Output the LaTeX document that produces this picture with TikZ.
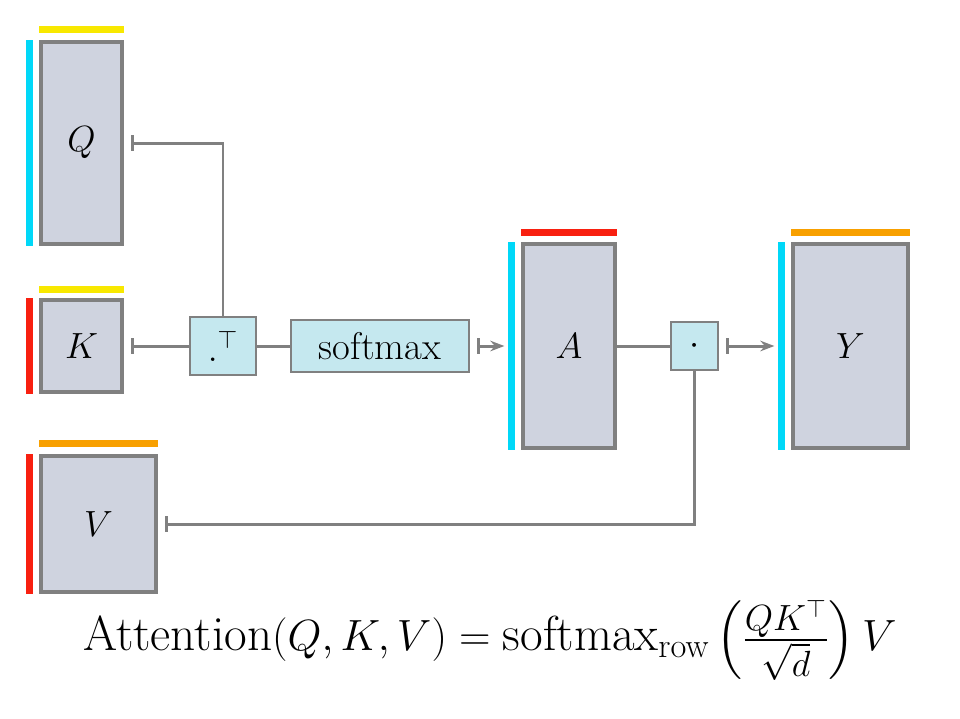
\documentclass[tikz,border=0pt]{standalone}
\usepackage{amsmath}
\usepackage{tikz}
\usetikzlibrary{arrows.meta,positioning,calc}
\definecolor{matfill}{HTML}{CFD3DF}
\definecolor{opfill}{HTML}{C5E8EF}
\definecolor{edgegray}{HTML}{808080}
\definecolor{barcyan}{HTML}{00D8F8}
\definecolor{barred}{HTML}{F82010}
\definecolor{baryellow}{HTML}{F8E800}
\definecolor{barorange}{HTML}{F8A000}
\begin{document}
\begin{tikzpicture}[x=0.02cm,y=-0.02cm,
            mat/.style={draw=edgegray, line width=1.8pt, fill=matfill, rectangle, inner sep=0pt,
                 font=\fontsize{22}{26}\selectfont},
            op/.style={draw=edgegray, line width=1.4pt, fill=opfill, rectangle, inner sep=0pt,
                 font=\fontsize{22}{26}\selectfont},
            wire/.style={draw=edgegray, line width=1.7pt, {Bar[width=9pt]}-, shorten <=4pt},
            flow/.style={wire, {Bar[width=9pt]}-{Stealth[length=8pt]}, shorten >=4pt},
            bar/.style={line width=4pt}
            ]
            \useasboundingbox (0,0) rectangle (960,718);

            % Matrices
            \node[mat, minimum width=81*0.02cm, minimum height=202*0.02cm] (q) at (81.5,143) {$Q$};
            \node[mat, minimum width=81*0.02cm, minimum height=92*0.02cm] (k) at (81.5,346) {$K$};
            \node[mat, minimum width=115*0.02cm, minimum height=136*0.02cm] (v) at (98.5,524) {$V$};
            \node[mat, minimum width=92*0.02cm, minimum height=204*0.02cm] (a) at (569,346) {$A$};
            \node[mat, minimum width=115*0.02cm, minimum height=204*0.02cm] (y) at (850.5,346) {$Y$};

            % Operations
            \node[op, minimum width=66*0.02cm, minimum height=58*0.02cm] (tr) at (223,346) {$.^{\top}$};
            \node[op, minimum width=178*0.02cm, minimum height=52*0.02cm] (sm) at (380,346) {softmax};
            \node[op, minimum width=47*0.02cm, minimum height=48*0.02cm] (mul) at (694.5,346) {$\cdot$};

            % Shape bars
            \draw[bar, barcyan] ([xshift=-10*0.02cm]q.north west) -- ([xshift=-10*0.02cm]q.south west);
            \draw[bar, baryellow] ([yshift=11*0.02cm]q.north west) -- ([yshift=11*0.02cm]q.north east);
            \draw[bar, barred] ([xshift=-10*0.02cm]k.north west) -- ([xshift=-10*0.02cm]k.south west);
            \draw[bar, baryellow] ([yshift=9*0.02cm]k.north west) -- ([yshift=9*0.02cm]k.north east);
            \draw[bar, barred] ([xshift=-10*0.02cm]v.north west) -- ([xshift=-10*0.02cm]v.south west);
            \draw[bar, barorange] ([yshift=11*0.02cm]v.north west) -- ([yshift=11*0.02cm]v.north east);
            \draw[bar, barcyan] ([xshift=-10*0.02cm]a.north west) -- ([xshift=-10*0.02cm]a.south west);
            \draw[bar, barred] ([yshift=10*0.02cm]a.north west) -- ([yshift=10*0.02cm]a.north east);
            \draw[bar, barcyan] ([xshift=-10*0.02cm]y.north west) -- ([xshift=-10*0.02cm]y.south west);
            \draw[bar, barorange] ([yshift=10*0.02cm]y.north west) -- ([yshift=10*0.02cm]y.north east);

            % Arrows
            \draw[wire] (q.east) -| (tr.north);
            \draw[wire] (k.east) -- (tr.west);
            \draw[draw=edgegray, line width=1.7pt] (tr.east) -- (sm.west);
            \draw[flow] (sm.east) -- ([xshift=-10*0.02cm]a.west);
            \draw[draw=edgegray, line width=1.7pt] (a.east) -- (mul.west);
            \draw[flow] (mul.east) -- ([xshift=-10*0.02cm]y.west);
            \draw[wire] (v.east) -| (mul.south);

            % Formula
            \node[font=\fontsize{28}{34}\selectfont] (eq) at (490,640)
                {$\text{Attention}(Q,K,V)=\text{softmax}_{\text{row}}\left(\frac{QK^{\top}}{\sqrt{d}}\right)V$};
\end{tikzpicture}
\end{document}
